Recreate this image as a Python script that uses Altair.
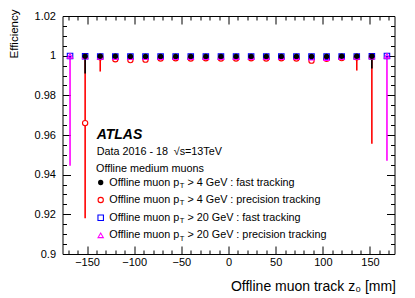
import altair as alt
import pandas as pd

# ---------------- data ----------------
z_bins = [-168, -152, -136, -120, -104, -88, -72, -56, -40, -24, -8,
          8, 24, 40, 56, 72, 88, 104, 120, 136, 152, 168]

# Offline muon pT > 4 GeV : fast tracking (black, filled circle)
eff_pt4_fast = [None, 0.9997, 0.9997, 0.9997, 0.9996, 0.9996, 0.9996, 0.9996, 0.9996, 0.9996, 0.9996,
                0.9996, 0.9996, 0.9996, 0.9996, 0.9996, 0.9996, 0.9996, 0.9997, 0.9997, 0.9997, None]
low_pt4_fast = [None, 0.9910, 0.9993, 0.9993, 0.9993, 0.9993, 0.9993, 0.9993, 0.9993, 0.9993, 0.9993,
                0.9993, 0.9993, 0.9993, 0.9993, 0.9993, 0.9993, 0.9993, 0.9993, 0.9993, 0.9935, None]
high_pt4_fast = [None, 1.0, 0.9999, 0.9999, 0.9999, 0.9999, 0.9999, 0.9999, 0.9999, 0.9999, 0.9999,
                 0.9999, 0.9999, 0.9999, 0.9999, 0.9999, 0.9999, 0.9999, 0.9999, 0.9999, 1.0, None]

# Offline muon pT > 4 GeV : precision tracking (red, open circle)
eff_pt4_prec = [None, 0.9660, 0.9992, 0.9982, 0.9978, 0.9980, 0.9986, 0.9987, 0.9986, 0.9987, 0.9986,
                0.9986, 0.9987, 0.9986, 0.9987, 0.9986, 0.9975, 0.9984, 0.9988, 0.9992, 0.9995, None]
low_pt4_prec = [None, 0.9180, 0.9920, 0.9978, 0.9974, 0.9976, 0.9983, 0.9984, 0.9983, 0.9984, 0.9983,
                0.9983, 0.9984, 0.9983, 0.9984, 0.9983, 0.9970, 0.9980, 0.9984, 0.9925, 0.9556, None]
high_pt4_prec = [None, 1.0, 1.0, 0.9986, 0.9982, 0.9984, 0.9989, 0.9990, 0.9989, 0.9990, 0.9989,
                 0.9989, 0.9990, 0.9989, 0.9990, 0.9989, 0.9980, 0.9988, 0.9992, 1.0, 1.0, None]

# Offline muon pT > 20 GeV : fast tracking (blue, open square)
eff_pt20_fast = [0.9998, 0.9997, 0.9996, 0.9995, 0.9995, 0.9995, 0.9995, 0.9995, 0.9995, 0.9995, 0.9995,
                 0.9995, 0.9995, 0.9995, 0.9995, 0.9995, 0.9995, 0.9995, 0.9995, 0.9996, 0.9997, 0.9998]
low_pt20_fast = [0.9990, 0.9993, 0.9993, 0.9992, 0.9992, 0.9992, 0.9992, 0.9992, 0.9992, 0.9992, 0.9992,
                 0.9992, 0.9992, 0.9992, 0.9992, 0.9992, 0.9992, 0.9992, 0.9992, 0.9993, 0.9993, 0.9990]
high_pt20_fast = [1.0] * 22

# Offline muon pT > 20 GeV : precision tracking (magenta, open triangle)
eff_pt20_prec = [0.9999, 0.9996, 0.9994, 0.9992, 0.9992, 0.9993, 0.9993, 0.9993, 0.9993, 0.9993, 0.9993,
                 0.9993, 0.9993, 0.9993, 0.9993, 0.9993, 0.9990, 0.9988, 0.9992, 0.9994, 0.9996, 0.9999]
low_pt20_prec = [0.9445, 0.9992, 0.9990, 0.9988, 0.9988, 0.9989, 0.9989, 0.9989, 0.9989, 0.9989, 0.9989,
                 0.9989, 0.9989, 0.9989, 0.9989, 0.9989, 0.9986, 0.9984, 0.9988, 0.9990, 0.9992, 0.9470]
high_pt20_prec = [1.0] * 22

series_names = ["pt4_fast", "pt4_prec", "pt20_fast", "pt20_prec"]
legend_rest = [" > 4 GeV : fast tracking", " > 4 GeV : precision tracking",
               " > 20 GeV : fast tracking", " > 20 GeV : precision tracking"]

# all tick positions (majors every 50 mm / 0.02, minors every 10 mm / 0.005)
x_ticks = [v for v in range(-170, 171, 10)]
y_ticks = [round(0.9 + 0.005 * i, 3) for i in range(25)]

# ---------------- layout ----------------
W, H = 332, 238
FONT = "Liberation Sans"
xs = alt.Scale(domain=[-176, 176], nice=False, zero=False)
ys = alt.Scale(domain=[0.9, 1.02], nice=False, zero=False)

AW = {' ': 278, '>': 584, '0': 556, '1': 556, '2': 556, '3': 556, '4': 556, '5': 556, '6': 556,
      '7': 556, '8': 556, '9': 556, 'G': 778, 'e': 556, 'V': 667, ':': 278, 'f': 278, 'a': 556,
      's': 500, 't': 278, 'r': 333, 'c': 500, 'k': 500, 'i': 222, 'n': 556, 'g': 556, 'p': 556,
      'o': 556, 'l': 222, 'O': 778, 'm': 833, 'u': 556, 'T': 611}


def tw(s, size):
    return sum(AW.get(ch, 556) for ch in s) * size / 1000.0


rows = []
for name, e, lo, hi in [
    ("pt4_fast", eff_pt4_fast, low_pt4_fast, high_pt4_fast),
    ("pt4_prec", eff_pt4_prec, low_pt4_prec, high_pt4_prec),
    ("pt20_fast", eff_pt20_fast, low_pt20_fast, high_pt20_fast),
    ("pt20_prec", eff_pt20_prec, low_pt20_prec, high_pt20_prec),
]:
    for zb, v, l, h in zip(z_bins, e, lo, hi):
        if v is not None:
            rows.append({"series": name, "z": zb, "eff": v, "lo": l, "hi": h})
df = pd.DataFrame(rows)

X_MAJOR = "abs(datum.value % 50) < 0.001"
Y_MAJOR = "abs(datum.value * 50 - round(datum.value * 50)) < 0.001"

# inward ticks on both sides are drawn as dashed grid lines: a dash at each end of every line
X_AXIS = alt.Axis(
    orient="bottom", values=x_ticks, ticks=False, tickSize=0, domain=False,
    grid=True, gridColor="black", gridOpacity=1, gridWidth=1,
    gridDash={"condition": {"test": X_MAJOR, "value": [8, H - 16, 8, 60]},
              "value": [4, H - 8, 4, 60]},
    labelExpr=X_MAJOR + " ? datum.label : ''", labelOverlap=False,
    labelFont=FONT, labelFontSize=11, labelColor="black", labelPadding=2,
    title="Offline muon track z\u2080 [mm]", titleFont=FONT, titleFontSize=14,
    titleFontWeight="normal", titleColor="black", titleAnchor="end", titleAlign="right",
    titleX=W + 1, titleY=32, titleBaseline="middle")
Y_AXIS = alt.Axis(
    orient="left", values=y_ticks, ticks=False, tickSize=0, domain=False,
    grid=True, gridColor="black", gridOpacity=1, gridWidth=1,
    gridDash={"condition": {"test": Y_MAJOR, "value": [8, W - 16, 8, 60]},
              "value": [4, W - 8, 4, 60]},
    labelExpr=Y_MAJOR + " ? format(datum.value, '.2~f') : ''", labelOverlap=False,
    labelFont=FONT, labelFontSize=11, labelColor="black", labelPadding=7,
    title="Efficiency", titleFont=FONT, titleFontSize=11.5, titleFontWeight="normal",
    titleColor="black", titleAngle=270, titleAlign="right", titleBaseline="middle",
    titleX=-48, titleY=-7)


def X(field):
    return alt.X(field, scale=xs, axis=X_AXIS)


def Y(field):
    return alt.Y(field, scale=ys, axis=Y_AXIS)


# ---------------- data marks ----------------
def err_layer(name, color):
    return alt.Chart(df).transform_filter(alt.datum.series == name).mark_rule(
        color=color, strokeWidth=1.6).encode(x=X("z:Q"), y=Y("lo:Q"), y2="hi:Q")


marker_style = {
    "pt4_fast": dict(shape="circle", size=28, filled=True, color="#000000", opacity=1),
    "pt4_prec": dict(shape="circle", size=28, filled=False, fill="white", stroke="#ff0000",
                     strokeWidth=1.1, opacity=1, fillOpacity=1),
    "pt20_fast": dict(shape="square", size=30, filled=False, stroke="#0000ff", strokeWidth=1.1,
                      opacity=1),
    "pt20_prec": dict(shape="triangle-up", size=28, filled=False, stroke="#ff00ff",
                      strokeWidth=1.1, opacity=1),
}


def pt_layer(name):
    return alt.Chart(df).transform_filter(alt.datum.series == name).mark_point(
        **marker_style[name]).encode(x=X("z:Q"), y=Y("eff:Q"))


# ---------------- text / legend ----------------
def txt(s, x, y, size=10.5, **kw):
    return alt.Chart(pd.DataFrame({"t": [s]})).mark_text(
        align="left", baseline="middle", font=FONT, fontSize=size, color="black", **kw
    ).encode(text="t:N", x=alt.value(x), y=alt.value(y))


LX = 34.2
texts = [
    txt("ATLAS", LX, 119, size=14, fontWeight="bold", fontStyle="italic"),
    txt("Data 2016 - 18", LX, 136, size=10.8),
    txt("\u221as=13TeV", LX + 77, 136, size=10.8),
    txt("Offline medium muons", LX - 0.7, 152.5, size=10.8),
]
row_y = [166.5, 184.0, 201.7, 219.3]
SYM_X, TXT_X, FS = 38.2, 46.8, 10.8
legend_layers = []
for i, name in enumerate(series_names):
    st = dict(marker_style[name])
    legend_layers.append(alt.Chart(pd.DataFrame({"s": [name]})).mark_point(**st).encode(
        x=alt.value(SYM_X), y=alt.value(row_y[i])))
    first = "Offline muon p"
    legend_layers.append(txt(first, TXT_X, row_y[i], size=FS))
    tx = TXT_X + tw(first, FS) + 0.3
    legend_layers.append(txt("T", tx, row_y[i] + 3.2, size=FS * 0.7))
    rest = legend_rest[i]
    rx = tx + tw("T", FS * 0.7) + tw(" ", FS)
    legend_layers.append(txt(rest.strip(), rx, row_y[i], size=FS))

layers = [err_layer("pt4_prec", "#ff0000"), err_layer("pt20_prec", "#ff00ff"),
          err_layer("pt20_fast", "#0000ff"), err_layer("pt4_fast", "#000000"),
          pt_layer("pt4_prec"), pt_layer("pt20_fast"), pt_layer("pt20_prec"), pt_layer("pt4_fast")]
layers += texts + legend_layers

chart = alt.layer(*layers).properties(
    width=W, height=H,
    background="white",
    autosize=alt.AutoSizeParams(type="none"),
    padding={"left": 54.5, "top": 8, "right": 12, "bottom": 40},
).configure_view(stroke="#000000", strokeWidth=1)

chart.save("out.html", embed_options={"renderer": "svg", "actions": False})
